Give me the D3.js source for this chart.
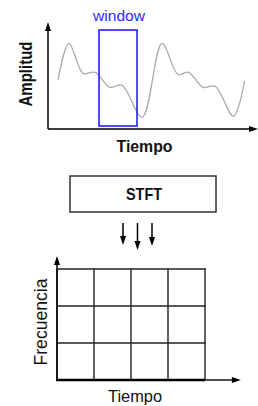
<!DOCTYPE html>
<html>
<head>
<meta charset="utf-8">
<script src="https://cdn.jsdelivr.net/npm/d3@7"></script>
<style>
  body { margin: 0; background: #fff; }
  text { font-family: "Liberation Sans", Arial, sans-serif; fill: #111; }
</style>
</head>
<body>
<div id="chart"></div>
<script>
// signal sample (time, amplitude)
const waveTime = [4.8, 10, 16.7, 22.4, 29.5, 35.2, 44.8, 54.3, 61.9, 66.9, 73.8, 79.5, 88.3, 93.6];
const waveAmp = [4.6, 8.0, 5.2, 5.3, 3.9, 4.1, 1.1, 8.0, 5.1, 5.3, 3.9, 4.0, 1.2, 4.5];

// analysis window
const windowTime = [24.3, 42.4];
const windowAmp = [0.28, 9.25];

// STFT grid: time bins and frequency bins
const timeBins = [0, 1, 2, 3, 4];
const freqBins = [0, 1, 2, 3];

const labels = {
  win: 'window',
  amp: 'Amplitud',
  time: 'Tiempo',
  stft: 'STFT',
  freq: 'Frecuencia',
};

const width = 258;
const height = 406;

const svg = d3.select('#chart')
  .append('svg')
    .attr('width', width)
    .attr('height', height);

/**
* Draw a filled arrowhead.
* @param {number} x - tip x.
* @param {number} y - tip y.
* @param {string} dir - 'up', 'down' or 'right'.
*/
function arrowHead(x, y, dir) {
  let len = 9;
  let w = 3;
  let pts;
  if (dir == 'up') {
    pts = [[x, y], [x - w, y + len], [x + w, y + len]];
  } else if (dir == 'down') {
    pts = [[x, y], [x - w, y - len], [x + w, y - len]];
  } else {
    pts = [[x, y], [x - len, y - w], [x - len, y + w]];
  }
  svg.append('path')
      .attr('d', 'M' + pts.join('L') + 'Z')
      .attr('fill', '#000');
}

// ---- top: signal in time ----
let x1 = d3.scaleLinear().domain([0, 100]).range([48, 258]);
let y1 = d3.scaleLinear().domain([0, 10]).range([129, 22]);

svg.append('path')
    .datum(waveTime.map((t, i) => [t, waveAmp[i]]))
    .attr('d', d3.line()
      .x(d => x1(d[0]))
      .y(d => y1(d[1]))
      .curve(d3.curveCatmullRom.alpha(0.5)))
    .attr('fill', 'none')
    .attr('stroke', '#ababab')
    .attr('stroke-width', 1.3);

svg.append('rect')
    .attr('x', x1(windowTime[0]))
    .attr('y', y1(windowAmp[1]))
    .attr('width', x1(windowTime[1]) - x1(windowTime[0]))
    .attr('height', y1(windowAmp[0]) - y1(windowAmp[1]))
    .attr('fill', 'none')
    .attr('stroke', '#1f1fff')
    .attr('stroke-width', 1.6);

svg.append('text')
    .attr('x', (x1(windowTime[0]) + x1(windowTime[1])) / 2 + 1)
    .attr('y', 21)
    .attr('text-anchor', 'middle')
    .attr('font-size', 14)
    .attr('textLength', 52)
    .attr('lengthAdjust', 'spacingAndGlyphs')
    .style('fill', '#2b2bff')
    .text(labels.win);

// axes
svg.append('line')
    .attr('x1', x1(0)).attr('x2', x1(0))
    .attr('y1', y1(0)).attr('y2', y1(10) + 6)
    .attr('stroke', '#000').attr('stroke-width', 1.5);
arrowHead(x1(0), y1(10), 'up');

svg.append('line')
    .attr('x1', x1(0)).attr('x2', x1(100) - 6)
    .attr('y1', y1(0)).attr('y2', y1(0))
    .attr('stroke', '#000').attr('stroke-width', 1.5);
arrowHead(x1(100), y1(0), 'right');

svg.append('text')
    .attr('transform', 'translate(32,74) rotate(-90)')
    .attr('text-anchor', 'middle')
    .attr('font-size', 17.5)
    .attr('font-weight', 'bold')
    .attr('textLength', 65)
    .attr('lengthAdjust', 'spacingAndGlyphs')
    .text(labels.amp);

svg.append('text')
    .attr('x', 144.5)
    .attr('y', 151.5)
    .attr('text-anchor', 'middle')
    .attr('font-size', 16.5)
    .attr('font-weight', 'bold')
    .attr('textLength', 56)
    .attr('lengthAdjust', 'spacingAndGlyphs')
    .text(labels.time);

// ---- middle: STFT box and arrows ----
svg.append('rect')
    .attr('x', 70)
    .attr('y', 176)
    .attr('width', 146)
    .attr('height', 36)
    .attr('fill', '#fff')
    .attr('stroke', '#333')
    .attr('stroke-width', 1.5);

svg.append('text')
    .attr('x', 144)
    .attr('y', 199.5)
    .attr('text-anchor', 'middle')
    .attr('font-size', 16.5)
    .attr('font-weight', 'bold')
    .attr('textLength', 36)
    .attr('lengthAdjust', 'spacingAndGlyphs')
    .text(labels.stft);

let arrowX = [123, 137.5, 152];
let arrowTip = [245, 250, 246];
arrowX.forEach(function(ax, i) {
  svg.append('line')
      .attr('x1', ax).attr('x2', ax)
      .attr('y1', 223).attr('y2', arrowTip[i] - 6)
      .attr('stroke', '#000').attr('stroke-width', 1.5);
  arrowHead(ax, arrowTip[i], 'down');
});

// ---- bottom: time-frequency grid ----
let x2 = d3.scaleLinear().domain([0, 4]).range([57, 205]);
let y2 = d3.scaleLinear().domain([0, 3]).range([380, 269]);

svg.append('g')
  .selectAll('line')
  .data(timeBins)
  .enter()
  .append('line')
    .attr('x1', d => x2(d)).attr('x2', d => x2(d))
    .attr('y1', y2(0)).attr('y2', y2(3))
    .attr('stroke', '#222').attr('stroke-width', 1.4);

svg.append('g')
  .selectAll('line')
  .data(freqBins.slice(1))
  .enter()
  .append('line')
    .attr('x1', x2(0)).attr('x2', x2(4) + 1)
    .attr('y1', d => y2(d)).attr('y2', d => y2(d))
    .attr('stroke', '#222').attr('stroke-width', 1.4);

svg.append('line')
    .attr('x1', x2(0)).attr('x2', x2(0))
    .attr('y1', y2(0)).attr('y2', y2(3.35) + 6)
    .attr('stroke', '#000').attr('stroke-width', 1.5);
arrowHead(x2(0), y2(3.35), 'up');

svg.append('line')
    .attr('x1', x2(0) - 1).attr('x2', x2(4))
    .attr('y1', y2(0)).attr('y2', y2(0))
    .attr('stroke', '#000').attr('stroke-width', 2.4);
svg.append('line')
    .attr('x1', x2(4)).attr('x2', x2(4.97) - 6)
    .attr('y1', y2(0)).attr('y2', y2(0))
    .attr('stroke', '#000').attr('stroke-width', 1.4);
arrowHead(x2(4.97), y2(0), 'right');

svg.append('text')
    .attr('transform', 'translate(47,322) rotate(-90)')
    .attr('text-anchor', 'middle')
    .attr('font-size', 17.5)
    .attr('textLength', 87)
    .attr('lengthAdjust', 'spacingAndGlyphs')
    .text(labels.freq);

svg.append('text')
    .attr('x', 135)
    .attr('y', 401.5)
    .attr('text-anchor', 'middle')
    .attr('font-size', 16.5)
    .attr('textLength', 54)
    .attr('lengthAdjust', 'spacingAndGlyphs')
    .text(labels.time);
</script>
</body>
</html>
